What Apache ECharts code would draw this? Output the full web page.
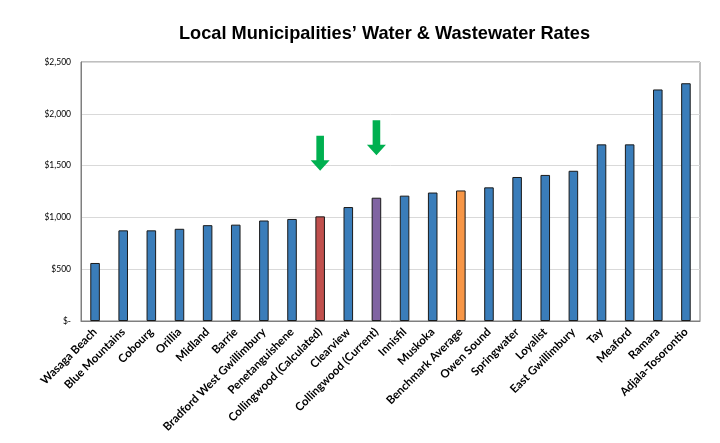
<!DOCTYPE html>
<html>
<head>
<meta charset="utf-8">
<script src="https://cdn.jsdelivr.net/npm/echarts@6/dist/echarts.min.js"></script>
<style>
  html, body { margin: 0; padding: 0; background: #fff; }
  #chart { width: 720px; height: 443px; }
</style>
</head>
<body>
<div id="chart"></div>
<script>
// municipalities, sorted by annual rate
var categories = ['Wasaga Beach', 'Blue Mountains', 'Cobourg', 'Orillia', 'Midland', 'Barrie',
  'Bradford West Gwillimbury', 'Penetanguishene', 'Collingwood (Calculated)', 'Clearview',
  'Collingwood (Current)', 'Innisfil', 'Muskoka', 'Benchmark Average', 'Owen Sound',
  'Springwater', 'Loyalist', 'East Gwillimbury', 'Tay', 'Meaford', 'Ramara', 'Adjala-Tosorontio'];
var rates = [560, 875, 875, 890, 925, 930, 970, 985, 1010, 1100, 1190, 1210, 1240, 1260, 1290,
  1390, 1410, 1450, 1705, 1705, 2235, 2295];
var yTicks = [0, 500, 1000, 1500, 2000, 2500];
// green arrows pointing at the two Collingwood bars (tip value)
var arrowCats = ['Collingwood (Calculated)', 'Collingwood (Current)'];
var arrowTips = [1450, 1600];

var chart = echarts.init(document.getElementById('chart'));

var specialColor = {
  'Collingwood (Calculated)': '#C0504D',
  'Collingwood (Current)': '#8064A2',
  'Benchmark Average': '#F79646'
};

var barData = categories.map(function (c, i) {
  return {
    value: rates[i],
    itemStyle: { color: specialColor[c] || '#3A7DBA' }
  };
});

var option = {
  backgroundColor: '#fff',
  title: {
    text: 'Local Municipalities\u2019 Water & Wastewater Rates',
    left: 174,
    top: 20,
    textStyle: { fontFamily: 'Liberation Sans', fontWeight: 'bold', fontSize: 18.2, color: '#000' }
  },
  grid: {
    left: 81, right: 20, top: 62, bottom: 122,
    show: true, borderColor: '#7f7f7f', borderWidth: 1
  },
  xAxis: {
    type: 'category',
    data: categories,
    axisTick: { show: false },
    axisLine: { lineStyle: { color: '#7f7f7f' } },
    axisLabel: {
      interval: 0, rotate: 45, margin: 9,
      fontFamily: 'Lato', fontWeight: 'bold', fontSize: 11.5, color: '#000'
    }
  },
  yAxis: {
    type: 'value',
    min: yTicks[0], max: yTicks[yTicks.length - 1], interval: 500,
    axisLine: { show: true, lineStyle: { color: '#7f7f7f' } },
    axisTick: { show: false },
    splitLine: { lineStyle: { color: '#d9d9d9' } },
    axisLabel: {
      fontFamily: 'Lato', fontSize: 8.5, color: '#000', margin: 10,
      formatter: function (v) { return v === 0 ? '$-' : '$' + v.toLocaleString('en-US'); }
    }
  },
  series: [{
    type: 'bar',
    data: barData,
    barWidth: '34%',
    itemStyle: { borderColor: '#1a1a1a', borderWidth: 1 },
    markPoint: {
      symbol: 'path://M3,0 L7,0 L7,7 L10,7 L5,10 L0,7 L3,7 Z',
      symbolSize: [19, 35],
      symbolOffset: [0, '-50%'],
      itemStyle: { color: '#00B050' },
      label: { show: false },
      data: arrowCats.map(function (c, i) { return { coord: [c, arrowTips[i]] }; })
    }
  }]
};

chart.setOption(option);
</script>
</body>
</html>
